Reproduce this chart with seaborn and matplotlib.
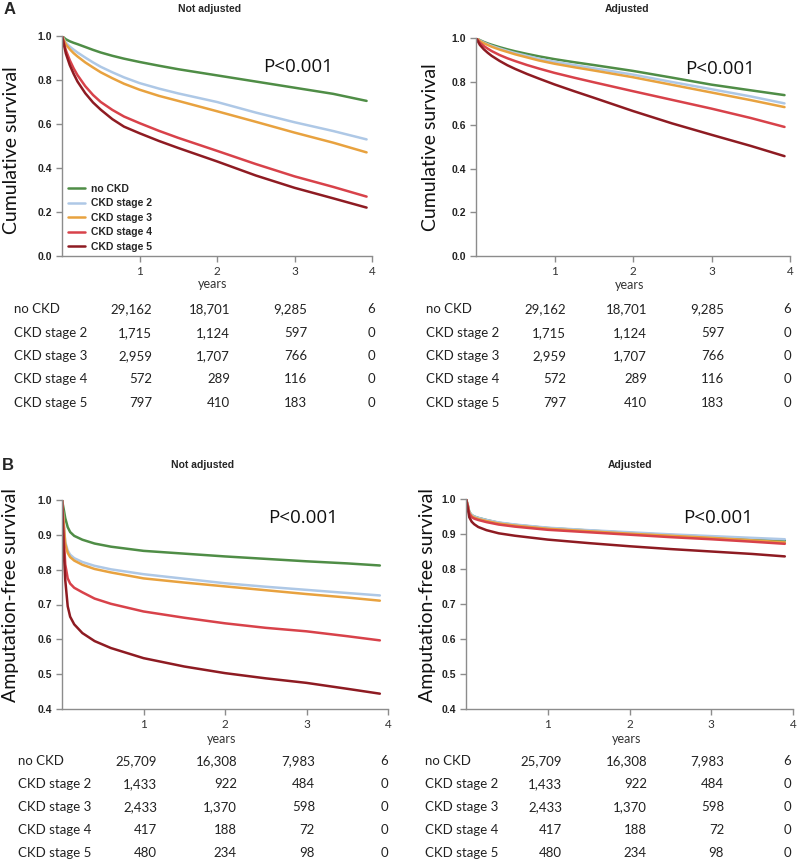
import matplotlib
matplotlib.use("Agg")
import matplotlib.pyplot as plt
import pandas as pd
import seaborn as sns

sns.set_style("ticks")
plt.rcParams["font.family"] = ["Lato", "DejaVu Sans"]

W, H = 797, 865

groups = ["no CKD", "CKD stage 2", "CKD stage 3", "CKD stage 4", "CKD stage 5"]
colors = ["#4f8d46", "#aec8e6", "#e8a23f", "#d8424a", "#8e1b22"]

# panel A: cumulative survival
years_a = [0, 0.05, 0.1, 0.15, 0.2, 0.3, 0.4, 0.5, 0.65, 0.8, 1, 1.25, 1.5, 2, 2.5, 3, 3.5, 3.93]
a_raw = [
    [1.0, 0.985, 0.976, 0.969, 0.963, 0.95, 0.937, 0.925, 0.91, 0.897, 0.882, 0.865, 0.849, 0.821, 0.793, 0.765, 0.737, 0.705],
    [1.0, 0.97, 0.952, 0.938, 0.925, 0.902, 0.88, 0.86, 0.835, 0.812, 0.786, 0.761, 0.739, 0.70, 0.652, 0.608, 0.568, 0.53],
    [1.0, 0.962, 0.94, 0.922, 0.907, 0.88, 0.857, 0.835, 0.808, 0.783, 0.756, 0.728, 0.705, 0.658, 0.61, 0.561, 0.515, 0.471],
    [1.0, 0.935, 0.89, 0.853, 0.822, 0.772, 0.732, 0.70, 0.664, 0.634, 0.604, 0.569, 0.537, 0.478, 0.418, 0.362, 0.314, 0.27],
    [1.0, 0.92, 0.868, 0.828, 0.793, 0.74, 0.698, 0.665, 0.622, 0.588, 0.558, 0.523, 0.491, 0.43, 0.366, 0.31, 0.262, 0.22],
]
a_adj = [
    [1.0, 0.99, 0.982, 0.975, 0.969, 0.958, 0.948, 0.939, 0.927, 0.916, 0.903, 0.889, 0.876, 0.849, 0.818, 0.786, 0.76, 0.738],
    [1.0, 0.988, 0.979, 0.971, 0.964, 0.952, 0.941, 0.931, 0.918, 0.905, 0.891, 0.876, 0.861, 0.832, 0.798, 0.765, 0.732, 0.70],
    [1.0, 0.986, 0.976, 0.968, 0.96, 0.947, 0.936, 0.925, 0.911, 0.897, 0.882, 0.866, 0.851, 0.82, 0.785, 0.75, 0.715, 0.683],
    [1.0, 0.978, 0.963, 0.951, 0.94, 0.922, 0.907, 0.894, 0.876, 0.86, 0.84, 0.818, 0.797, 0.756, 0.716, 0.676, 0.633, 0.592],
    [1.0, 0.968, 0.948, 0.932, 0.918, 0.895, 0.875, 0.858, 0.835, 0.814, 0.787, 0.756, 0.726, 0.665, 0.608, 0.556, 0.505, 0.458],
]

# panel B: amputation-free survival
years_b = [0, 0.02, 0.04, 0.07, 0.1, 0.15, 0.25, 0.4, 0.6, 1, 1.5, 2, 2.5, 3, 3.5, 3.9]
b_raw = [
    [1.0, 0.975, 0.948, 0.922, 0.908, 0.897, 0.886, 0.875, 0.866, 0.854, 0.846, 0.838, 0.831, 0.824, 0.818, 0.812],
    [1.0, 0.94, 0.88, 0.855, 0.843, 0.833, 0.822, 0.811, 0.801, 0.787, 0.774, 0.761, 0.751, 0.742, 0.733, 0.726],
    [1.0, 0.935, 0.875, 0.848, 0.836, 0.826, 0.814, 0.802, 0.792, 0.775, 0.763, 0.752, 0.741, 0.73, 0.72, 0.711],
    [1.0, 0.9, 0.815, 0.775, 0.76, 0.748, 0.735, 0.717, 0.702, 0.68, 0.662, 0.646, 0.633, 0.623, 0.609, 0.597],
    [1.0, 0.86, 0.77, 0.695, 0.665, 0.643, 0.618, 0.595, 0.575, 0.546, 0.522, 0.503, 0.488, 0.475, 0.458, 0.444],
]
b_adj = [
    [1.0, 0.985, 0.963, 0.954, 0.95, 0.946, 0.94, 0.932, 0.926, 0.917, 0.91, 0.903, 0.897, 0.892, 0.886, 0.881],
    [1.0, 0.985, 0.963, 0.954, 0.95, 0.946, 0.94, 0.933, 0.927, 0.918, 0.911, 0.905, 0.899, 0.894, 0.889, 0.885],
    [1.0, 0.983, 0.96, 0.951, 0.947, 0.943, 0.937, 0.93, 0.924, 0.915, 0.908, 0.901, 0.895, 0.889, 0.882, 0.876],
    [1.0, 0.982, 0.958, 0.948, 0.944, 0.94, 0.934, 0.927, 0.921, 0.912, 0.905, 0.898, 0.891, 0.885, 0.878, 0.872],
    [1.0, 0.975, 0.948, 0.935, 0.928, 0.92, 0.911, 0.902, 0.895, 0.884, 0.874, 0.865, 0.857, 0.85, 0.843, 0.836],
]

# numbers at risk (columns: 0, 1, 2, 3 years)
risk_a = [
    ["29,162", "18,701", "9,285", "6"],
    ["1,715", "1,124", "597", "0"],
    ["2,959", "1,707", "766", "0"],
    ["572", "289", "116", "0"],
    ["797", "410", "183", "0"],
]
risk_b = [
    ["25,709", "16,308", "7,983", "6"],
    ["1,433", "922", "484", "0"],
    ["2,433", "1,370", "598", "0"],
    ["417", "188", "72", "0"],
    ["480", "234", "98", "0"],
]


def fx(x):
    return x / W


def fy(y):
    return 1 - y / H


def long_df(t, curves):
    rows = []
    for g, vals in zip(groups, curves):
        for x, v in zip(t, vals):
            rows.append({"years": x, "survival": v, "group": g})
    return pd.DataFrame(rows)


fig = plt.figure(figsize=(W / 100, H / 100), dpi=100)


def panel(box, t, curves, ylo, yticks, title, title_xy, ylabel, ylabel_xy,
          years_xy, p_xy):
    l, top, r, b = box
    ax = fig.add_axes([fx(l), fy(b), fx(r - l), (b - top) / H])
    sns.lineplot(data=long_df(t, curves), x="years", y="survival", hue="group",
                 hue_order=groups, palette=colors, estimator=None, sort=True,
                 linewidth=1.8, legend=False, ax=ax)
    for line in ax.lines:
        line.set_solid_joinstyle("round")
    ax.set_xlim(0, 4)
    ax.set_ylim(ylo, 1.0)
    ax.set_xticks([1, 2, 3, 4])
    ax.set_xticklabels(["1", "2", "3", "4"], fontsize=8.5, color="#333333")
    ax.set_yticks(yticks)
    ax.set_yticklabels([f"{v:.1f}" for v in yticks], fontsize=7.5,
                       fontweight="bold", family="Liberation Sans", color="#222222")
    ax.set_xlabel("")
    ax.set_ylabel("")
    for s in ["top", "right"]:
        ax.spines[s].set_visible(False)
    for s in ["left", "bottom"]:
        ax.spines[s].set_color("#8c8c8c")
        ax.spines[s].set_linewidth(1)
    ax.tick_params(direction="out", length=4, width=1, color="#8c8c8c", pad=3)
    ax.text(p_xy[0], p_xy[1], "P<0.001", fontsize=13.5, color="#111111",
            family="Open Sans", va="center", ha="left")
    fig.text(fx(title_xy[0]), fy(title_xy[1]), title, fontsize=7.5,
             fontweight="bold", family="Liberation Sans", ha="center", va="center")
    fig.text(fx(ylabel_xy[0]), fy(ylabel_xy[1]), ylabel, fontsize=14,
             rotation=90, ha="center", va="center", color="#111111")
    fig.text(fx(years_xy[0]), fy(years_xy[1]), "years", fontsize=9,
             ha="center", va="center", color="#333333")
    return ax


def table(label_x, col_x, row_y, counts):
    for g, y, vals in zip(groups, row_y, counts):
        fig.text(fx(label_x), fy(y), g, fontsize=9.5, ha="left", va="center",
                 color="#222222")
        for x, v in zip(col_x, vals):
            fig.text(fx(x), fy(y), v, fontsize=9.5, ha="right", va="center",
                     color="#222222")


yt_a = [0.0, 0.2, 0.4, 0.6, 0.8, 1.0]
yt_b = [0.4, 0.5, 0.6, 0.7, 0.8, 0.9, 1.0]

ax1 = panel((62, 36, 372, 256), years_a, a_raw, 0.0, yt_a, "Not adjusted", (210, 9),
            "Cumulative survival", (12, 150), (213, 284), (2.59, 0.86))
panel((476, 38, 790, 256), years_a, a_adj, 0.0, yt_a, "Adjusted", (627, 9),
      "Cumulative survival", (430, 147), (630, 285), (2.66, 0.86))
panel((62, 500, 388, 709), years_b, b_raw, 0.4, yt_b, "Not adjusted", (203, 465),
      "Amputation-free survival", (11, 595), (222, 739), (2.53, 0.948))
panel((466, 499, 793, 709), years_b, b_adj, 0.4, yt_b, "Adjusted", (630, 465),
      "Amputation-free survival", (428, 595), (627, 739), (2.65, 0.945))

ax1.legend(ax1.lines, groups, loc="lower left", bbox_to_anchor=(0.02, 0.02),
           frameon=False, handlelength=1.6, handletextpad=0.6, labelspacing=0.42,
           borderpad=0, borderaxespad=0,
           prop={"family": "Liberation Sans", "weight": "bold", "size": 7.5})

fig.text(fx(4), fy(9), "A", fontsize=12, fontweight="bold",
         family="Liberation Sans", ha="left", va="center")
fig.text(fx(2), fy(465), "B", fontsize=12, fontweight="bold",
         family="Liberation Sans", ha="left", va="center")

rows_a = [309, 333, 356, 379, 403]
rows_b = [761, 784, 807, 830, 853]
table(14, [152, 230, 307, 375], rows_a, risk_a)
table(426, [566, 647, 724, 791], rows_a, risk_a)
table(18, [157, 237, 315, 388], rows_b, risk_b)
table(425, [562, 647, 724, 791], rows_b, risk_b)

fig.savefig("out.png", dpi=100)
